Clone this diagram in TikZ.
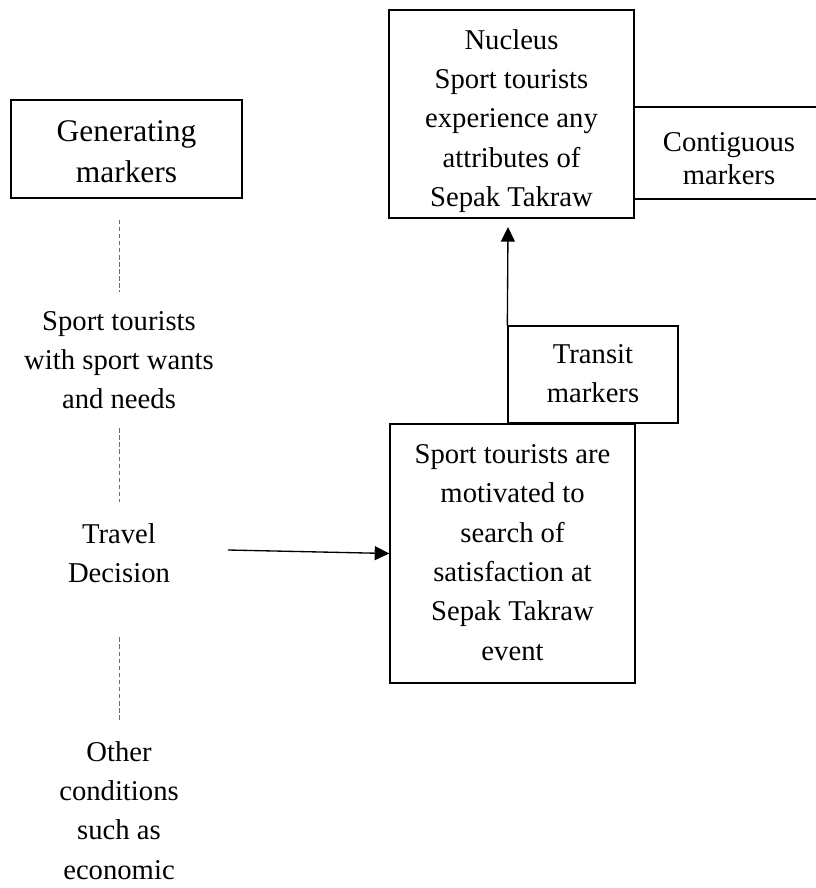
\documentclass[tikz,border=0pt]{standalone}
\usepackage{fontspec}
\setmainfont{Liberation Serif}
\usetikzlibrary{arrows.meta}

\begin{document}
\begin{tikzpicture}[x=0.75pt,y=0.75pt,yscale=-1,xscale=1,
    box/.style={draw, line width=1pt, inner sep=0pt},
    txt/.style={align=center, inner sep=0.75pt, font=\fontsize{21.5pt}{29.5pt}\selectfont},
    dashline/.style={draw={rgb, 255:red, 110; green, 110; blue, 110 }, line width=0.6pt, dash pattern=on 3.4pt off 1.9pt},
    arrowline/.style={line width=1pt, -{Triangle[length=11pt,width=10.5pt]}}]
    %set diagram to 816 x 888
    \useasboundingbox (0,0) rectangle (816,888);

    %Shape: Rectangle
    \node [box, minimum width=173.25pt, minimum height=73.5pt] (generating) at (126.5,149) {};
    %Shape: Rectangle
    \node [box, minimum width=183.75pt, minimum height=156pt] (nucleus) at (511.5,114) {};
    %Shape: Rectangle
    \node [box, minimum width=142.5pt, minimum height=69pt] (contiguous) at (729,153) {};
    %Shape: Rectangle
    \node [box, minimum width=127.5pt, minimum height=72.75pt] (transit) at (593,374.5) {};
    %Shape: Rectangle
    \node [box, minimum width=183.75pt, minimum height=194.25pt] (motive) at (512.5,553.5) {};

    % Text Node
    \node [txt, font=\fontsize{23.6pt}{30.75pt}\selectfont] (generatingtxt) at (126.5,151.7) {Generating\\markers};
    % Text Node
    \node [txt] (nucleustxt) at (511.5,120.8) {Nucleus\\Sport tourists\\experience any\\attributes of\\Sepak Takraw};
    % Text Node
    \node [txt, font=\fontsize{21.5pt}{24.75pt}\selectfont] (contiguoustxt) at (729,158.7) {Contiguous\\markers};
    % Text Node
    \node [txt] (transittxt) at (593,373.5) {Transit\\markers};
    % Text Node
    \node [txt] (motivetxt) at (512.5,552.5) {Sport tourists are\\motivated to\\search of\\satisfaction at\\Sepak Takraw\\event};
    % Text Node
    \node [txt] (sporttxt) at (119,360) {Sport tourists\\with sport wants\\and needs};
    % Text Node
    \node [txt] (traveltxt) at (119,553.4) {Travel\\Decision};
    % Text Node
    \node [txt] (othertxt) at (119,810.2) {Other\\conditions\\such as\\economic};

    %Dashed lines
    \draw [dashline, shorten <=15.75pt, shorten >=13.5pt] (sporttxt.north |- generating.south) -- (sporttxt.north);
    \draw [dashline, shorten <=13.5pt, shorten >=15pt] (sporttxt.south) -- (traveltxt.north);
    \draw [dashline, shorten <=39.75pt, shorten >=13.5pt] (traveltxt.south) -- (othertxt.north);

    %Arrows
    \coordinate (decisionout) at (228,550);
    \coordinate (nucleusin) at (508,227);
    \draw [arrowline] (decisionout) -- (motive.west);
    \draw [arrowline] (transit.north west) -- (nucleusin);

\end{tikzpicture}
\end{document}
